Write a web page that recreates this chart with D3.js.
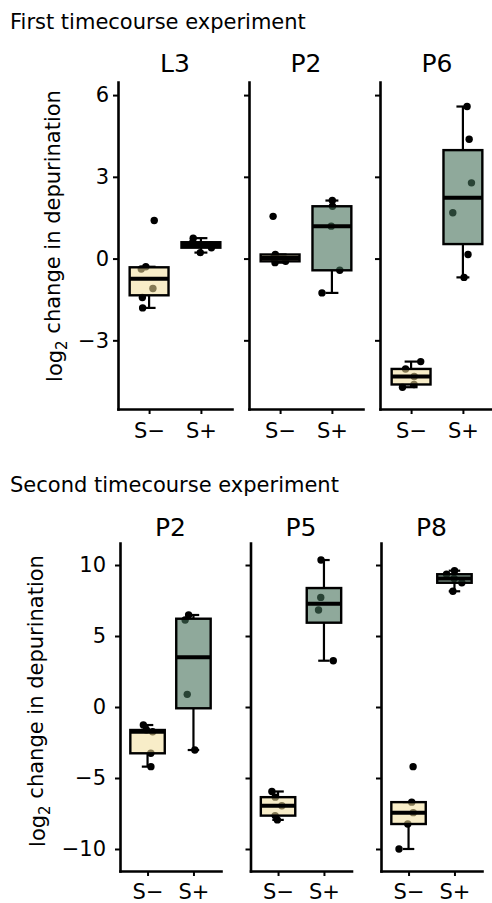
<!DOCTYPE html>
<html>
<head>
<meta charset="utf-8">
<script src="https://cdn.jsdelivr.net/npm/d3@7"></script>
<style>
body { margin: 0; background: #fff; }
text { font-family: "DejaVu Sans", sans-serif; fill: #000; }
</style>
</head>
<body>
<svg id="chart" width="492" height="903"></svg>
<script>
// Data (log2 change in depurination)
var groups = ["S\u2212", "S+"];

var firstPanels = ["L3", "P2", "P6"];
var firstSminus = [
    [1.40, -0.30, -0.38, -1.10, -1.43, -1.81],
    [1.55, 0.15, 0.02, -0.10, -0.15],
    [-3.78, -4.05, -4.33, -4.62, -4.72]
];
var firstSplus = [
    [0.75, 0.60, 0.50, 0.40, 0.22],
    [2.13, 1.92, 1.19, -0.43, -1.26],
    [5.58, 4.38, 2.78, 1.68, 0.15, -0.69]
];
var firstTicks = [-3, 0, 3, 6];

var secondPanels = ["P2", "P5", "P8"];
var secondSminus = [
    [-1.27, -1.62, -1.74, -3.26, -4.20],
    [-5.95, -6.35, -6.95, -7.65, -7.95],
    [-4.20, -6.70, -7.44, -8.24, -10.00]
];
var secondSplus = [
    [6.48, 6.13, 0.89, -3.03],
    [10.35, 7.72, 6.83, 3.26],
    [9.60, 9.35, 9.05, 8.75, 8.15]
];
var secondTicks = [-10, -5, 0, 5, 10];

// Styles
var fills = ["#F3DF9A", "#457058"];
var fillOpacity = [0.55, 0.6];

var svg = d3.select("#chart");
var rng = d3.randomLcg(0.42);

// Boxplot statistics like ggplot (quantile type 7, 1.5 IQR whiskers)
function boxStats(vals) {
    var s = vals.slice().sort(d3.ascending);
    var q1 = d3.quantileSorted(s, 0.25),
        med = d3.quantileSorted(s, 0.5),
        q3 = d3.quantileSorted(s, 0.75),
        iqr = q3 - q1;
    var inside = s.filter(function(v) { return v >= q1 - 1.5 * iqr && v <= q3 + 1.5 * iqr; });
    return {q1: q1, med: med, q3: q3, lo: d3.min(inside), hi: d3.max(inside)};
}

function drawSection(cfg) {
    var root = svg.append("g");

    root.append("text")
        .attr("x", 10)
        .attr("y", cfg.titleY)
        .style("font-size", "21px")
        .text(cfg.title);

    var y = d3.scaleLinear().domain(cfg.domain).range([cfg.bottom, cfg.top]);

    // y axis title
    var lab = root.append("text")
        .attr("transform", "translate(" + cfg.labelX + "," + cfg.labelY + ") rotate(-90)")
        .attr("text-anchor", "middle")
        .style("font-size", "21px");
    lab.append("tspan").text("log");
    lab.append("tspan").attr("dy", "0.3em").style("font-size", "15px").text("2");
    lab.append("tspan").attr("dy", "-0.3em").text(" change in depurination");

    cfg.panels.forEach(function(name, i) {
        var x0 = cfg.left + i * cfg.step;
        var g = root.append("g").attr("transform", "translate(" + x0 + ",0)");
        var x = d3.scalePoint().domain(groups).range([0, cfg.width]).padding(0.6);
        var bw = x.step() * 0.75, cw = x.step() * 0.25;

        g.append("text")
            .attr("x", cfg.width / 2)
            .attr("y", cfg.stripY)
            .attr("text-anchor", "middle")
            .style("font-size", "25px")
            .text(name);

        var yAxis = d3.axisLeft(y).tickValues(cfg.ticks).tickSize(5).tickSizeOuter(0)
            .tickPadding(cfg.yPad);
        if (i > 0) yAxis.tickFormat("");
        var ya = g.append("g").call(yAxis);

        var xa = g.append("g")
            .attr("transform", "translate(0," + cfg.bottom + ")")
            .call(d3.axisBottom(x).tickSize(5).tickSizeOuter(0).tickPadding(cfg.xPad));

        [ya, xa].forEach(function(a) {
            a.attr("font-family", null).attr("font-size", null);
            a.selectAll("path").attr("stroke", "#000").attr("stroke-width", 2.6)
                .attr("stroke-linecap", "square");
            a.selectAll("line").attr("stroke", "#000").attr("stroke-width", 2);
            a.selectAll("text").style("font-size", "21px").attr("fill", "#000");
        });

        [cfg.sminus[i], cfg.splus[i]].forEach(function(vals, k) {
            var cx = x(groups[k]);
            var st = boxStats(vals);
            var bg = g.append("g");

            // whiskers with caps
            bg.append("line")
                .attr("x1", cx).attr("x2", cx)
                .attr("y1", y(st.hi)).attr("y2", y(st.q3));
            bg.append("line")
                .attr("x1", cx).attr("x2", cx)
                .attr("y1", y(st.q1)).attr("y2", y(st.lo));
            [st.lo, st.hi].forEach(function(v) {
                bg.append("line")
                    .attr("x1", cx - cw / 2).attr("x2", cx + cw / 2)
                    .attr("y1", y(v)).attr("y2", y(v));
            });
            bg.selectAll("line").attr("stroke", "#000").attr("stroke-width", 2.2);

            // jittered points
            bg.selectAll("circle")
                .data(vals)
                .enter().append("circle")
                .attr("cx", function() { return cx + (rng() - 0.5) * 0.42 * x.step(); })
                .attr("cy", function(d) { return y(d); })
                .attr("r", 3.7)
                .attr("fill", "#000");

            // semi transparent box over the points
            bg.append("rect")
                .attr("x", cx - bw / 2)
                .attr("y", y(st.q3))
                .attr("width", bw)
                .attr("height", y(st.q1) - y(st.q3))
                .attr("fill", fills[k])
                .attr("fill-opacity", fillOpacity[k])
                .attr("stroke", "#000")
                .attr("stroke-width", 2.4);

            bg.append("line")
                .attr("x1", cx - bw / 2).attr("x2", cx + bw / 2)
                .attr("y1", y(st.med)).attr("y2", y(st.med))
                .attr("stroke", "#000")
                .attr("stroke-width", 4);
        });
    });
}

drawSection({
    title: "First timecourse experiment", titleY: 29,
    panels: firstPanels, sminus: firstSminus, splus: firstSplus, ticks: firstTicks,
    domain: [-5.52, 6.48], top: 82, bottom: 409,
    left: 118, step: 131, width: 114, stripY: 72,
    labelX: 62, labelY: 236, yPad: 4, xPad: 9
});

drawSection({
    title: "Second timecourse experiment", titleY: 492,
    panels: secondPanels, sminus: secondSminus, splus: secondSplus, ticks: secondTicks,
    domain: [-11.55, 11.55], top: 543, bottom: 871,
    left: 120, step: 130.5, width: 101, stripY: 536,
    labelX: 45, labelY: 701, yPad: 9, xPad: 8
});
</script>
</body>
</html>
